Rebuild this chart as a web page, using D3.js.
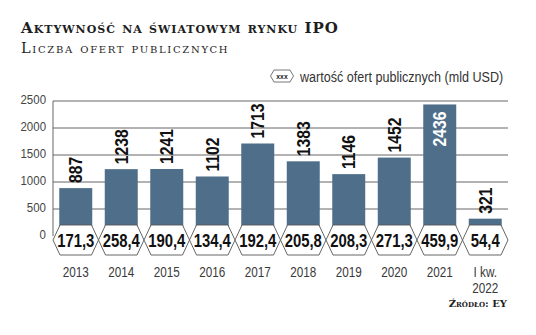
<!DOCTYPE html>
<html>
<head>
<meta charset="utf-8">
<script src="https://cdn.jsdelivr.net/npm/d3@7"></script>
<style>
  body { margin: 0; background: #fff; }
  svg { display: block; }
  .sans { font-family: "Liberation Sans", Arial, sans-serif; }
  .serif { font-family: "DejaVu Serif", serif; font-variant: small-caps; }
</style>
</head>
<body>
<div id="wykres"></div>
<script>
const lata = ["2013", "2014", "2015", "2016", "2017", "2018", "2019", "2020", "2021", "I kw. 2022"];
const liczbaOfert = [887, 1238, 1241, 1102, 1713, 1383, 1146, 1452, 2436, 321];
const wartoscOfert = ["171,3", "258,4", "190,4", "134,4", "192,4", "205,8", "208,3", "271,3", "459,9", "54,4"];
const podzialkaY = [0, 500, 1000, 1500, 2000, 2500];

const dane = lata.map((rok, i) => ({ rok, liczba: liczbaOfert[i], wartosc: wartoscOfert[i] }));

// zwezenie czcionki (oryginal uzywa kroju condensed)
const ZW = 0.85;

function rysujWykres(target) {
    const szerokosc = 536;
    const wysokosc = 335;
    const kolorSlupka = "#4f6e8a";
    const kolorLinii = "#666";

    const svg = d3.select(target)
        .append("svg")
        .attr("width", szerokosc)
        .attr("height", wysokosc);

    const x = d3.scaleBand()
        .domain(lata)
        .range([53, 508])
        .paddingInner(0.275)
        .paddingOuter(0.1375);
    const y = d3.scaleLinear()
        .domain([0, 2500])
        .range([236, 101]);
    const srodek = d => x(d.rok) + x.bandwidth() / 2;

    // tekst zwezony w poziomie
    function waski(parent, px, py, rozmiar) {
        return parent.append("g")
            .attr("transform", `translate(${px},${py}) scale(${ZW},1)`)
            .append("text")
            .attr("class", "sans")
            .style("font-size", rozmiar + "px");
    }

    // tytul i podtytul
    svg.append("text")
        .attr("class", "serif")
        .attr("x", 21).attr("y", 33)
        .attr("fill", "#1e1e1e")
        .style("font-size", "15px")
        .style("font-weight", "bold")
        .style("letter-spacing", "1px")
        .text("Aktywność na światowym rynku IPO");
    svg.append("text")
        .attr("class", "serif")
        .attr("x", 21).attr("y", 53)
        .attr("fill", "#1e1e1e")
        .style("font-size", "14.5px")
        .style("letter-spacing", "1.7px")
        .text("Liczba ofert publicznych");

    // legenda
    const hex = (cx, cy, w, h, wciecie) => {
        const l = cx - w / 2, r = cx + w / 2, t = cy - h / 2, b = cy + h / 2;
        return `M${l},${cy}L${l + wciecie},${t}L${r - wciecie},${t}L${r},${cy}L${r - wciecie},${b}L${l + wciecie},${b}Z`;
    };
    svg.append("path")
        .attr("d", hex(282, 76, 23, 12, 3.5))
        .attr("fill", "#fff")
        .attr("stroke", "#555")
        .attr("stroke-width", 0.8);
    waski(svg, 282, 78.5, 8)
        .attr("text-anchor", "middle")
        .attr("fill", "#222")
        .style("font-weight", "bold")
        .text("xxx");
    waski(svg, 300, 81.5, 14.8)
        .attr("fill", "#333")
        .text("wartość ofert publicznych (mld USD)");

    // linie siatki
    svg.append("g")
        .selectAll("line")
        .data(podzialkaY.filter(d => d > 0))
        .join("line")
        .attr("x1", 53).attr("x2", 508)
        .attr("y1", d => y(d)).attr("y2", d => y(d))
        .attr("stroke", kolorLinii)
        .attr("stroke-width", 1);

    // os Y
    const osY = svg.append("g")
        .attr("transform", "translate(53,0)")
        .call(d3.axisLeft(y).tickValues(podzialkaY).tickFormat(d3.format("d")).tickSize(0).tickPadding(0));
    osY.select(".domain").remove();
    osY.selectAll(".tick text")
        .attr("class", "sans")
        .attr("x", -7 / ZW)
        .attr("dy", "0.2em")
        .attr("transform", `scale(${ZW},1)`)
        .attr("fill", "#444")
        .style("font-size", "13.5px");
    svg.append("line")
        .attr("x1", 53).attr("x2", 53)
        .attr("y1", y(2500)).attr("y2", y(0))
        .attr("stroke", kolorLinii);

    // slupki
    svg.append("g")
        .selectAll("rect")
        .data(dane)
        .join("rect")
        .attr("x", d => x(d.rok))
        .attr("width", x.bandwidth())
        .attr("y", d => y(d.liczba))
        .attr("height", d => y(0) - y(d.liczba))
        .attr("fill", kolorSlupka);

    // pionowe etykiety liczby ofert
    svg.append("g")
        .selectAll("g")
        .data(dane)
        .join("g")
        .attr("transform", d => {
            const wSrodku = d.liczba > 2000;
            const py = wSrodku ? y(d.liczba) + 7 : y(d.liczba) - 5;
            return `translate(${srodek(d) + 6.5},${py}) rotate(-90) scale(${ZW},1)`;
        })
        .append("text")
        .attr("class", "sans")
        .attr("text-anchor", d => d.liczba > 2000 ? "end" : "start")
        .attr("fill", d => d.liczba > 2000 ? "#fff" : "#111")
        .style("font-size", "18.5px")
        .style("font-weight", "bold")
        .text(d => d.liczba);

    // szesciokaty z wartoscia ofert
    const krok = x.step();
    const szesc = svg.append("g")
        .selectAll("g")
        .data(dane)
        .join("g");
    szesc.append("path")
        .attr("d", d => hex(srodek(d), 240, krok, 30, 7))
        .attr("fill", "#fff")
        .attr("stroke", "#555")
        .attr("stroke-width", 0.9);
    szesc.each(function(d) {
        waski(d3.select(this), srodek(d), 246.5, 17.5)
            .attr("text-anchor", "middle")
            .attr("fill", "#111")
            .style("font-weight", "bold")
            .text(d.wartosc);
    });

    // etykiety lat
    const etykiety = svg.append("g");
    dane.forEach(d => {
        const czesci = d.rok.startsWith("I kw.") ? ["I kw.", d.rok.slice(6)] : [d.rok];
        waski(etykiety, srodek(d), 277, 13.8)
            .attr("text-anchor", "middle")
            .attr("fill", "#3a3a3a")
            .selectAll("tspan")
            .data(czesci)
            .join("tspan")
            .attr("x", 0)
            .attr("dy", (c, i) => i === 0 ? 0 : 16)
            .text(c => c);
    });

    // zrodlo
    svg.append("text")
        .attr("class", "serif")
        .attr("x", 507).attr("y", 307)
        .attr("text-anchor", "end")
        .attr("fill", "#1e1e1e")
        .style("font-size", "10px")
        .style("font-weight", "bold")
        .text("Źródło: EY");
}

rysujWykres("#wykres");
</script>
</body>
</html>
